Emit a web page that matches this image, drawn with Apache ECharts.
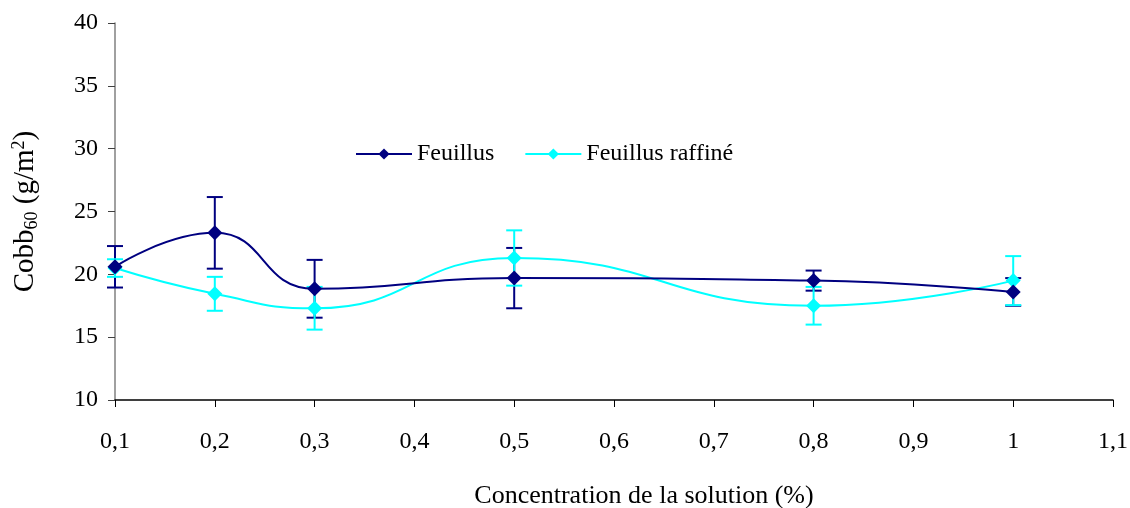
<!DOCTYPE html>
<html><head><meta charset="utf-8">
<script src="https://cdn.jsdelivr.net/npm/echarts@6/dist/echarts.min.js"></script>
<style>html,body{margin:0;padding:0;background:#fff}#c{width:1130px;height:508px}</style>
</head><body><div id="c"></div>
<script>
const concentrations = [0.1, 0.2, 0.3, 0.5, 0.8, 1.0];
const feuillus = [20.6, 23.3, 18.85, 19.7, 19.5, 18.6];
const feuillusErr = [1.65, 2.85, 2.3, 2.4, 0.8, 1.1];
const raffine = [20.5, 18.45, 17.3, 21.3, 17.5, 19.5];
const raffineErr = [0.7, 1.35, 1.7, 2.2, 1.5, 1.95];
const seriesNames = ['Feuillus', 'Feuillus raffiné'];
const colors = ['#000080', '#00FFFF'];

const font = '"Liberation Serif", "Times New Roman", serif';
const chart = echarts.init(document.getElementById('c'), null, {renderer: 'canvas'});

function errSeries(vals, errs, color) {
  return {
    type: 'custom', z: 1, silent: true,
    data: concentrations.map((x, i) => [x, vals[i] - errs[i], vals[i] + errs[i]]),
    renderItem: function (params, api) {
      const lo = api.coord([api.value(0), api.value(1)]);
      const hi = api.coord([api.value(0), api.value(2)]);
      const w = 8;
      const st = {stroke: color, lineWidth: 2};
      return {type: 'group', children: [
        {type: 'line', shape: {x1: lo[0], y1: lo[1], x2: hi[0], y2: hi[1]}, style: st},
        {type: 'line', shape: {x1: lo[0] - w, y1: lo[1], x2: lo[0] + w, y2: lo[1]}, style: st},
        {type: 'line', shape: {x1: hi[0] - w, y1: hi[1], x2: hi[0] + w, y2: hi[1]}, style: st}
      ]};
    }
  };
}

function fmtX(v) { return String(+v.toFixed(1)).replace('.', ','); }

chart.setOption({
  animation: false,
  backgroundColor: '#fff',
  color: colors,
  grid: {left: 115, right: 17, top: 23, bottom: 108, containLabel: false, outerBoundsMode: 'none'},
  legend: {
    data: seriesNames,
    left: 350, top: 137,
    itemWidth: 56, itemHeight: 14, itemGap: 30,
    textStyle: {fontFamily: font, fontSize: 24, color: '#000'}
  },
  xAxis: {
    type: 'value', min: 0.1, max: 1.1, interval: 0.1,
    name: 'Concentration de la solution (%)', nameLocation: 'middle', nameGap: 83,
    nameTextStyle: {fontFamily: font, fontSize: 26, color: '#000', padding: [0, 0, 0, 60]},
    axisLine: {onZero: false, lineStyle: {color: '#000', width: 1.5}},
    axisTick: {show: true, length: 7, lineStyle: {color: '#000'}},
    axisLabel: {formatter: fmtX, fontFamily: font, fontSize: 24, color: '#000', margin: 30},
    splitLine: {show: false}
  },
  yAxis: {
    type: 'value', min: 10, max: 40, interval: 5,
    name: '{m|Cobb}{sub|60}{m| (g/m}{sup|2}{m|)}', nameLocation: 'middle', nameGap: 74,
    nameTextStyle: {
      rich: {
        m: {fontFamily: font, fontSize: 29, color: '#000'},
        sub: {fontFamily: font, fontSize: 18, color: '#000', verticalAlign: 'bottom', padding: [13, 0, 0, 0]},
        sup: {fontFamily: font, fontSize: 18, color: '#000', verticalAlign: 'top', padding: [0, 0, 13, 0]}
      }
    },
    axisLine: {show: true, lineStyle: {color: '#808080', width: 1.5}},
    axisTick: {show: true, length: 7, lineStyle: {color: '#404040'}},
    axisLabel: {fontFamily: font, fontSize: 24, color: '#000', margin: 17},
    splitLine: {show: false}
  },
  series: [
    {
      type: 'line', name: seriesNames[0], smooth: 0.5, z: 3,
      data: concentrations.map((x, i) => [x, feuillus[i]]),
      symbol: 'diamond', symbolSize: 15,
      lineStyle: {color: colors[0], width: 2}, itemStyle: {color: colors[0]}
    },
    {
      type: 'line', name: seriesNames[1], smooth: 0.5, z: 2,
      data: concentrations.map((x, i) => [x, raffine[i]]),
      symbol: 'diamond', symbolSize: 15,
      lineStyle: {color: colors[1], width: 2}, itemStyle: {color: colors[1]}
    },
    errSeries(feuillus, feuillusErr, colors[0]),
    errSeries(raffine, raffineErr, colors[1])
  ]
});
</script></body></html>
